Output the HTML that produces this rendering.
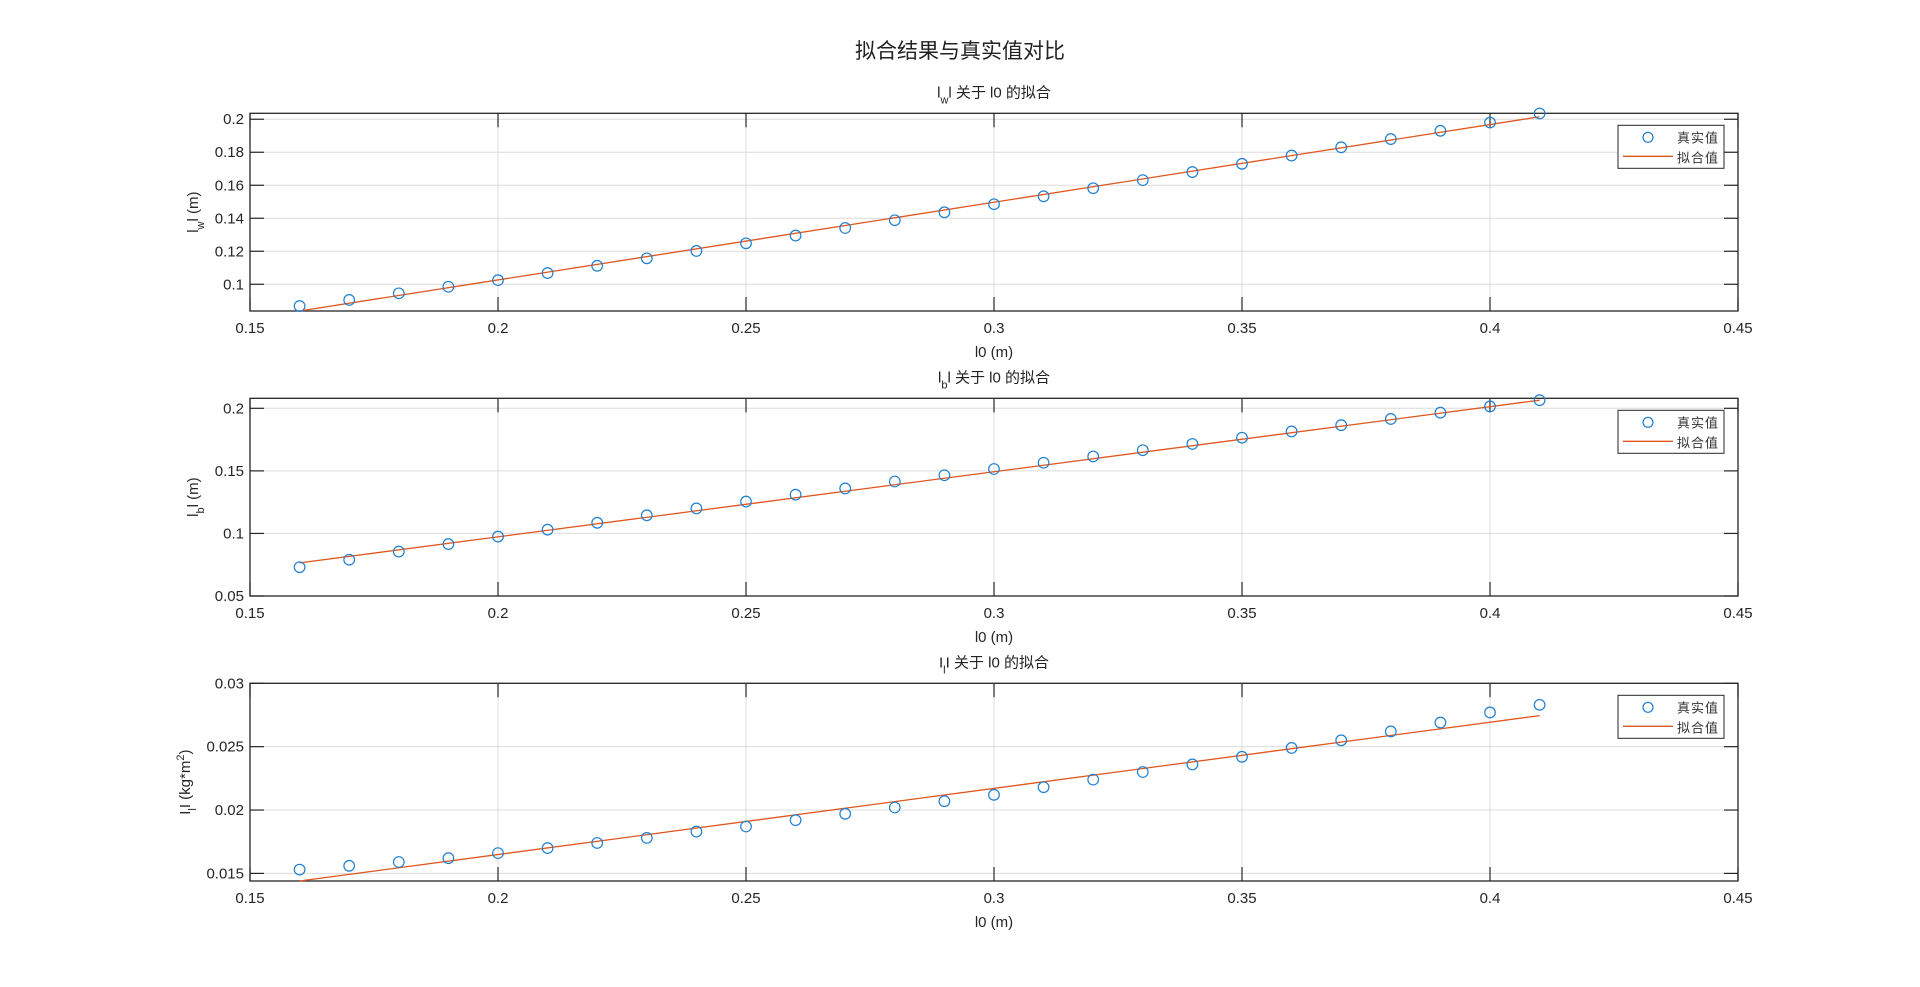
<!DOCTYPE html>
<html><head><meta charset="utf-8"><style>
body{margin:0;background:#fff;}
svg{display:block;font-family:"Liberation Sans","Noto Sans CJK SC",sans-serif;}
</style></head><body>
<svg id="fig" width="1920" height="987">
<text x="960" y="58" text-anchor="middle" font-size="21" fill="#222">拟合结果与真实值对比</text>
</svg>
<script>
const xs = [0.16,0.17,0.18,0.19,0.20,0.21,0.22,0.23,0.24,0.25,0.26,0.27,0.28,0.29,0.30,0.31,0.32,0.33,0.34,0.35,0.36,0.37,0.38,0.39,0.40,0.41];
const lwVals = [0.0868,0.0905,0.0945,0.0985,0.1025,0.1068,0.1112,0.1157,0.1202,0.1248,0.1295,0.1341,0.1388,0.1436,0.1485,0.1533,0.1582,0.1631,0.168,0.173,0.178,0.183,0.188,0.193,0.198,0.2035];
const lwFit = [0.0838,0.2015];
const lbVals = [0.073,0.079,0.0855,0.0915,0.0975,0.103,0.1085,0.1145,0.12,0.1255,0.131,0.136,0.1415,0.1465,0.1515,0.1565,0.1615,0.1665,0.1715,0.1765,0.1815,0.1865,0.1915,0.1965,0.2015,0.2065];
const lbFit = [0.0765,0.2065];
const ilVals = [0.0153,0.0156,0.0159,0.0162,0.0166,0.0170,0.0174,0.0178,0.0183,0.0187,0.0192,0.0197,0.0202,0.0207,0.0212,0.0218,0.0224,0.0230,0.0236,0.0242,0.0249,0.0255,0.0262,0.0269,0.0277,0.0283];
const ilFit = [0.0144,0.02745];
const xTicks = [0.15,0.2,0.25,0.3,0.35,0.4,0.45];
const xTickLabels = ["0.15","0.2","0.25","0.3","0.35","0.4","0.45"];
const yTicks1 = [0.1,0.12,0.14,0.16,0.18,0.2];
const yTickLabels1 = ["0.1","0.12","0.14","0.16","0.18","0.2"];
const yTicks2 = [0.05,0.1,0.15,0.2];
const yTickLabels2 = ["0.05","0.1","0.15","0.2"];
const yTicks3 = [0.015,0.02,0.025,0.03];
const yTickLabels3 = ["0.015","0.02","0.025","0.03"];

const NS="http://www.w3.org/2000/svg";
const svg=document.getElementById('fig');
function mk(tag,attrs,parent){const e=document.createElementNS(NS,tag);for(const k in attrs)e.setAttribute(k,attrs[k]);(parent||svg).appendChild(e);return e;}
const L=250,R=1738;
function xScale(v){return L+(v-0.15)/(0.45-0.15)*(R-L);}

function panel(cfg){
  const g=mk('g',{});
  
  
  const T=cfg.top,B=cfg.bottom;
  const yS=v=>B-(v-cfg.ymin)/(cfg.ymax-cfg.ymin)*(B-T);
  xTicks.forEach((t,i)=>{
    const x=xScale(t);
    if(i>0&&i<xTicks.length-1){const gl=mk('line',{x1:x,x2:x,y1:T,y2:B,stroke:'#dcdcdc','stroke-width':1},g);
    
    }
  });
  cfg.yTicks.forEach(t=>{const y=yS(t);const gl=mk('line',{x1:L,x2:R,y1:y,y2:y,stroke:'#dcdcdc','stroke-width':1},g);
    
    });
  const box=mk('rect',{x:L,y:T,width:R-L,height:B-T,fill:'none',stroke:'#262626','stroke-width':1.3},g);
  
  
  xTicks.forEach((t,i)=>{
    const x=xScale(t);
    mk('line',{x1:x,x2:x,y1:B,y2:B-14,stroke:'#262626','stroke-width':1.2},g);
    mk('line',{x1:x,x2:x,y1:T,y2:T+14,stroke:'#262626','stroke-width':1.2},g);
    const tx=mk('text',{x:x,y:B+22,'text-anchor':'middle','font-size':15,fill:'#262626'},g);
    tx.textContent=xTickLabels[i];
    
    
  });
  cfg.yTicks.forEach((t,i)=>{
    const y=yS(t);
    mk('line',{x1:L,x2:L+14,y1:y,y2:y,stroke:'#262626','stroke-width':1.2},g);
    mk('line',{x1:R,x2:R-14,y1:y,y2:y,stroke:'#262626','stroke-width':1.2},g);
    const tx=mk('text',{x:L-6,y:y+5,'text-anchor':'end','font-size':15,fill:'#262626'},g);
    tx.textContent=cfg.yTickLabels[i];
    
    
  });
  const xl=mk('text',{x:(L+R)/2,y:B+46,'text-anchor':'middle','font-size':15,fill:'#262626'},g);
  xl.textContent='l0 (m)';
  
  
  const yl=mk('text',{transform:`translate(${cfg.ylx},${(T+B)/2}) rotate(-90)`,'text-anchor':'middle','font-size':15,fill:'#262626'},g);
  yl.innerHTML=cfg.ylabel;
  
  
  const tt=mk('text',{x:(L+R)/2,y:T-16,'text-anchor':'middle','font-size':15,fill:'#222'},g);
  tt.innerHTML=cfg.title;
  
  
  const fl=mk('line',{x1:xScale(xs[0]),y1:yS(cfg.fit[0]),x2:xScale(xs[xs.length-1]),y2:yS(cfg.fit[1]),stroke:'#e0561f','stroke-width':1.3},g);
  
  
  cfg.vals.forEach((v,i)=>{
    const c=mk('circle',{cx:xScale(xs[i]),cy:yS(v),r:5.3,fill:'none',stroke:'#1f7fd0','stroke-width':1.2},g);
    
    
  });
  const lg=mk('g',{},g);
  
  
  const lt=T+12;
  mk('rect',{x:1618,y:lt,width:106,height:43,fill:'#fff',stroke:'#262626','stroke-width':1},lg);
  mk('circle',{cx:1648,cy:lt+12,r:5,fill:'none',stroke:'#1f7fd0','stroke-width':1.2},lg);
  mk('line',{x1:1623,x2:1673,y1:lt+31,y2:lt+31,stroke:'#e0561f','stroke-width':1.3},lg);
  const t1=mk('text',{x:1719,y:lt+17,'text-anchor':'end','font-size':13,fill:'#333','letter-spacing':'1'},lg);
  t1.textContent='真实值';
  
  
  const t2=mk('text',{x:1719,y:lt+37,'text-anchor':'end','font-size':13,fill:'#333','letter-spacing':'1'},lg);
  t2.textContent='拟合值';
  
  
}
panel({name:'lw-panel',top:113.3,bottom:311,ymin:0.0838,ymax:0.2036,yTicks:yTicks1,yTickLabels:yTickLabels1,vals:lwVals,fit:lwFit,ylx:198,
  ylabel:'l<tspan baseline-shift="sub" font-size="11">w</tspan>l (m)',title:'l<tspan baseline-shift="sub" font-size="11">w</tspan>l 关于 l0 的拟合'});
panel({name:'lb-panel',top:398.3,bottom:596,ymin:0.05,ymax:0.208,yTicks:yTicks2,yTickLabels:yTickLabels2,vals:lbVals,fit:lbFit,ylx:198,
  ylabel:'l<tspan baseline-shift="sub" font-size="11">b</tspan>l (m)',title:'l<tspan baseline-shift="sub" font-size="11">b</tspan>l 关于 l0 的拟合'});
panel({name:'il-panel',top:683.3,bottom:881,ymin:0.0144,ymax:0.03,yTicks:yTicks3,yTickLabels:yTickLabels3,vals:ilVals,fit:ilFit,ylx:190,
  ylabel:'I<tspan baseline-shift="sub" font-size="11">l</tspan>I (kg*m<tspan baseline-shift="super" font-size="11">2</tspan>)',title:'I<tspan baseline-shift="sub" font-size="11">l</tspan>I 关于 l0 的拟合'});
</script>
</body></html>
